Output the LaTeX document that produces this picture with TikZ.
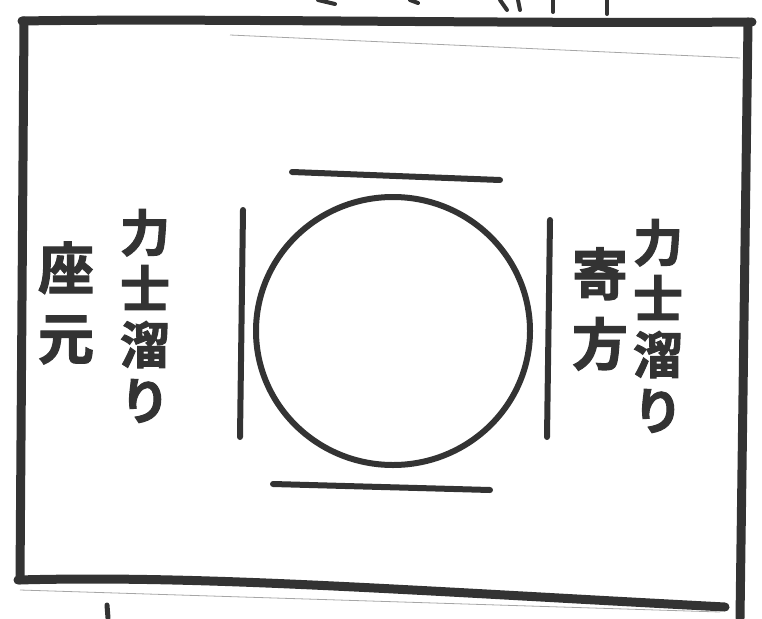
\documentclass[tikz,border=0pt]{standalone}
\usepackage{fontspec}
\usetikzlibrary{shapes.geometric}
\newfontfamily\cjk[BoldFont={Noto Sans CJK JP Bold},BoldFeatures={FakeBold=2}]{Noto Sans CJK JP}
\begin{document}
\begin{tikzpicture}[x=1pt,y=-1pt,
  ink/.style={draw=black!80,line cap=round,line join=round},
  frame/.style={ink,line width=9pt},
  penline/.style={ink,line width=6pt},
  faint/.style={draw=black!35,line width=0.8pt},
  vtext/.style={font=\cjk\bfseries\fontsize{50}{56}\selectfont,text=black!80,align=center,inner sep=0pt},
  vtextb/.style={font=\cjk\bfseries\fontsize{56}{70}\selectfont,text=black!80,align=center,inner sep=0pt}]
\useasboundingbox (0,0) rectangle (762,618);
% frame
\coordinate (tl) at (22,21);
\coordinate (tr) at (752,22);
\coordinate (bl) at (18,580);
\coordinate (br) at (725,607);
\draw[frame] (tl) .. controls (200,18) and (500,24) .. (tr);
\draw[frame] (24,21) -- (20,580);
\draw[frame] (bl) .. controls (200,575) and (400,590) .. (br);
\draw[frame] (748,22) -- (740,618);
\draw[faint] (230,35) -- (740,58);
\draw[faint] (20,590) -- (720,612);
% fragments at edges
\draw[ink,line width=4pt] (318,0) -- (335,4);
\draw[ink,line width=4pt] (410,0) -- (418,3);
\draw[ink,line width=4pt] (500,0) -- (507,10);
\draw[ink,line width=4pt] (518,0) -- (520,10);
\draw[ink,line width=4pt] (553,0) -- (553,12);
\draw[ink,line width=4pt] (607,0) -- (607,14);
\draw[ink,line width=5pt] (107,605) -- (108,618);
% dohyo
\node[penline,ellipse,draw,minimum width=274pt,minimum height=268pt,inner sep=0pt] (ring) at (393,331) {};
\coordinate (t1) at (292,172); \coordinate (t2) at (500,180);
\coordinate (b1) at (273,484); \coordinate (b2) at (490,490);
\coordinate (l1) at (243,210); \coordinate (l2) at (240,437);
\coordinate (r1) at (550,220); \coordinate (r2) at (547,437);
\draw[penline] (t1) -- (t2);
\draw[penline] (b1) -- (b2);
\draw[penline] (l1) -- (l2);
\draw[penline] (r1) -- (r2);
% labels
\node[vtext] (lr) at (145,316) {力\\士\\溜\\り};
\node[vtextb] (za) at (66,303) {座\\元};
\node[vtext] (rr) at (658,326) {力\\士\\溜\\り};
\node[vtextb] (yo) at (600,309) {寄\\方};
\end{tikzpicture}
\end{document}
